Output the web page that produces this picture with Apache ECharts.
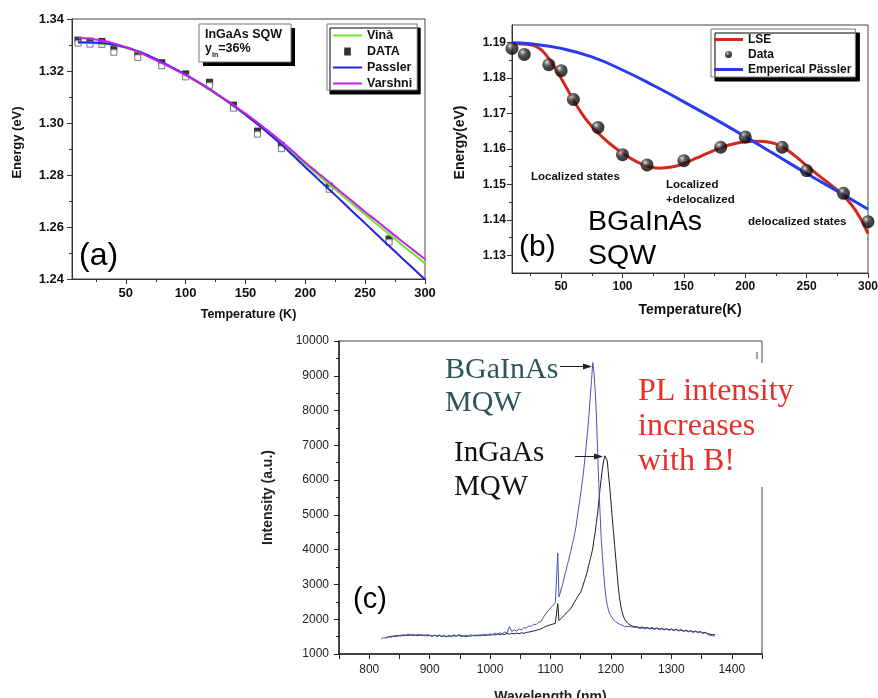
<!DOCTYPE html>
<html>
<head>
<meta charset="utf-8">
<title>Band gap vs temperature and PL spectra</title>
<script src="https://cdn.jsdelivr.net/npm/echarts@6/dist/echarts.min.js"></script>
<style>
  html, body { margin: 0; padding: 0; background: #ffffff; }
  #chart { width: 878px; height: 698px; }
</style>
</head>
<body>
<div id="chart"></div>
<script>
// ---------- (a) InGaAs SQW: band gap energy vs temperature ----------
const tempFitA = [10, 20, 30, 40, 50, 60, 70, 80, 90, 100, 110, 120, 130, 140, 150,
                  160, 170, 180, 190, 200, 210, 220, 230, 240, 250, 260, 270, 280, 290, 300];
const vinaFitA = [1.3309, 1.3308, 1.3305, 1.3299, 1.3288, 1.3273, 1.3254, 1.3232, 1.3208, 1.3183,
                  1.3156, 1.3127, 1.3097, 1.3065, 1.3031, 1.2996, 1.2960, 1.2922, 1.2882, 1.2841,
                  1.2802, 1.2763, 1.2725, 1.2686, 1.2648, 1.2610, 1.2572, 1.2534, 1.2497, 1.2460];
const passlerFitA = [1.3311, 1.3310, 1.3307, 1.3301, 1.3291, 1.3276, 1.3257, 1.3235, 1.3211, 1.3186,
                     1.3159, 1.3130, 1.3099, 1.3066, 1.3032, 1.2995, 1.2957, 1.2917, 1.2874, 1.2830,
                     1.2787, 1.2744, 1.2701, 1.2657, 1.2614, 1.2570, 1.2527, 1.2484, 1.2441, 1.2398];
const varshniFitA = [1.3328, 1.3324, 1.3317, 1.3306, 1.3292, 1.3274, 1.3253, 1.3231, 1.3208, 1.3184,
                     1.3158, 1.3130, 1.3100, 1.3069, 1.3036, 1.3002, 1.2966, 1.2929, 1.2889, 1.2848,
                     1.2810, 1.2772, 1.2734, 1.2696, 1.2658, 1.2622, 1.2585, 1.2548, 1.2512, 1.2476];
const tempDataA = [10, 20, 30, 40, 60, 80, 100, 120, 140, 160, 180, 220, 270];
const energyDataA = [1.3315, 1.3311, 1.3310, 1.3280, 1.3260, 1.3228, 1.3185, 1.3153, 1.3065,
                     1.2965, 1.2909, 1.2753, 1.2550];
const tempTicks = [50, 100, 150, 200, 250, 300];
const tempMinorTicks = [25, 75, 125, 175, 225, 275];

// ---------- (b) BGaInAs SQW: S-shaped emission energy ----------
const tempDataB = [10, 20, 40, 50, 60, 80, 100, 120, 150, 180, 200, 230, 250, 280, 300];
const energyDataB = [1.1884, 1.1867, 1.1838, 1.1821, 1.1740, 1.1661, 1.1584, 1.1555, 1.1567,
                     1.1605, 1.1634, 1.1605, 1.1539, 1.1475, 1.1395];
const tempFitB = [10, 15, 20, 25, 30, 35, 40, 45, 50, 55, 60, 65, 70, 75, 80, 85, 90, 95, 100,
                  110, 120, 130, 140, 150, 160, 170, 180, 190, 200, 210, 220, 230, 240, 250,
                  260, 270, 280, 290, 300];
const lseFitB = [1.1897, 1.1897, 1.1896, 1.1894, 1.1889, 1.1876, 1.1855, 1.1829, 1.1800, 1.1769,
                 1.1738, 1.1710, 1.1685, 1.1664, 1.1646, 1.1629, 1.1614, 1.1601, 1.1589,
                 1.1567, 1.1552, 1.1546, 1.1549, 1.1559, 1.1574, 1.1589, 1.1603, 1.1614, 1.1620,
                 1.1622, 1.1619, 1.1606, 1.1582, 1.1553, 1.1525, 1.1498, 1.1468, 1.1426, 1.1362];
const tempPasslerB = [10, 25, 50, 75, 100, 125, 150, 175, 200, 225, 250, 275, 300];
const passlerFitB = [1.1900, 1.1897, 1.1884, 1.1860, 1.1823, 1.1780, 1.1733, 1.1685, 1.1635,
                     1.1583, 1.1531, 1.1481, 1.1430];
const energyTicksB = [1.13, 1.14, 1.15, 1.16, 1.17, 1.18, 1.19];
const energyMinorTicksB = [1.135, 1.145, 1.155, 1.165, 1.175, 1.185];

// ---------- (c) Room-temperature PL spectra ----------
const wavelengthNm = [
  820, 824, 828, 832, 836, 840, 844, 848, 852, 856, 860, 864, 868, 872, 876, 880, 884, 888, 892, 896,
  900, 904, 908, 912, 916, 920, 924, 928, 932, 936, 940, 944, 948, 952, 956, 960, 964, 968, 972, 976,
  980, 984, 988, 992, 996, 1000, 1004, 1008, 1012, 1016, 1020, 1024, 1028, 1032, 1036, 1040, 1044,
  1048, 1052, 1056, 1060, 1064, 1068, 1072, 1076, 1080, 1084, 1088, 1092, 1096, 1100,
  1102, 1104, 1106, 1108, 1110, 1112, 1114, 1116, 1118, 1120, 1122, 1124, 1126, 1128, 1130, 1132,
  1134, 1136, 1138, 1140, 1142, 1144, 1146, 1148, 1150, 1152, 1154, 1156, 1158, 1160, 1162, 1164,
  1166, 1168, 1170, 1172, 1174, 1176, 1178, 1180, 1182, 1184, 1186, 1188, 1190, 1192, 1194, 1196,
  1198, 1200, 1202, 1204, 1206, 1208, 1210, 1212, 1214, 1216, 1218, 1220, 1222, 1224, 1226, 1228,
  1230, 1232, 1234, 1236, 1238, 1240,
  1244, 1248, 1252, 1256, 1260, 1264, 1268, 1272, 1276, 1280, 1284, 1288, 1292, 1296, 1300, 1304,
  1308, 1312, 1316, 1320, 1324, 1328, 1332, 1336, 1340, 1344, 1348, 1352, 1356, 1360, 1364, 1368, 1372
];
const bgainasIntensity = [
  1440, 1470, 1455, 1500, 1480, 1525, 1495, 1540, 1510, 1560, 1530, 1575, 1545, 1560, 1530, 1570,
  1540, 1555, 1520, 1560, 1535, 1505, 1545, 1515, 1550, 1500, 1530, 1490, 1540, 1510, 1555, 1520,
  1560, 1525, 1505, 1545, 1510, 1560, 1520, 1550, 1515, 1560, 1530, 1570, 1540, 1580, 1550, 1600,
  1565, 1610, 1580, 1630, 1600, 1790, 1650, 1690, 1660, 1720, 1690, 1760, 1740, 1810, 1790, 1860,
  1840, 1910, 1930, 2050, 2150, 2240, 2320,
  2360, 2400, 2430, 2470, 2510, 3900, 2640, 2750, 2900, 2980, 3150, 3300, 3400, 3580, 3690, 3860,
  3980, 4160, 4270, 4460, 4640, 4890, 5120, 5370, 5610, 5890, 6140, 6460, 6790, 7160, 7540, 7960,
  8440, 8900, 9380, 9100, 8550, 7850, 6800, 5850, 5050, 4300, 3800, 3300, 2900, 2600, 2400, 2260,
  2160, 2100, 2040, 1990, 1950, 1920, 1900, 1880, 1860, 1840, 1830, 1810, 1800, 1790, 1785, 1770,
  1790, 1760, 1780, 1750, 1770, 1745,
  1760, 1735, 1750, 1720, 1745, 1715, 1740, 1705, 1735, 1700, 1725, 1690, 1720, 1680, 1705, 1670,
  1700, 1660, 1685, 1645, 1670, 1635, 1655, 1620, 1645, 1610, 1630, 1590, 1610, 1560, 1540, 1525, 1520
];
const ingaasIntensity = [
  null, null, 1470, 1490, 1510, 1500, 1530, 1515, 1540, 1525, 1545, 1530, 1550, 1535, 1545, 1525,
  1550, 1530, 1545, 1520, 1540, 1515, 1535, 1505, 1530, 1510, 1525, 1500, 1520, 1505, 1530, 1510,
  1535, 1515, 1520, 1500, 1525, 1510, 1540, 1520, 1545, 1525, 1550, 1530, 1555, 1540, 1560, 1545,
  1570, 1555, 1580, 1560, 1590, 1570, 1595, 1580, 1600, 1585, 1610, 1595, 1620, 1630, 1645, 1660,
  1680, 1700, 1720, 1760, 1790, 1820, 1840,
  1850, 1860, 1870, 1880, 1890, 2450, 1960, 1990, 2030, 2060, 2100, 2140, 2180, 2210, 2240, 2270,
  2320, 2380, 2440, 2500, 2560, 2620, 2680, 2720, 2780, 2880, 2980, 3100, 3200, 3320, 3450, 3600,
  3750, 3880, 4050, 4300, 4500, 4780, 5050, 5400, 5750, 6050, 6350, 6560, 6700, 6750, 6550, 6150,
  5800, 5400, 4950, 4550, 4150, 3750, 3350, 2950, 2650, 2400, 2250, 2120, 2030, 1960, 1920, 1880,
  1850, 1830, 1810, 1800, 1790, 1785,
  1780, 1760, 1775, 1745, 1765, 1735, 1760, 1725, 1750, 1715, 1740, 1705, 1730, 1695, 1720, 1685,
  1710, 1675, 1700, 1660, 1685, 1650, 1670, 1635, 1660, 1625, 1645, 1605, 1625, 1585, 1570, 1560, 1555
];

// ---------- helpers ----------
const SANS = '"Liberation Sans", Arial, sans-serif';
const SERIF = '"Liberation Serif", "Times New Roman", serif';
const pairs = (xs, ys) => xs.map((x, i) => [x, ys[i]]);
const LINE_ICON_2 = 'path://M0,0h29v2h-29z';
const LINE_ICON_3 = 'path://M0,0h29v3h-29z';

const boldLabel = (size, extra) => Object.assign({
  fontFamily: SANS, fontWeight: 'bold', fontSize: size, color: '#111'
}, extra || {});

function mainAxis(gridIndex, min, max, labelValues, labelSize, margin, fmt, name, nameGap, nameSize, pos, namePad) {
  return {
    type: 'value', gridIndex, min, max, position: pos,
    axisLine: { show: true, onZero: false, lineStyle: { color: '#333', width: 1 } },
    axisTick: { show: true, inside: false, length: 5, customValues: labelValues, lineStyle: { color: '#333', width: 1 } },
    axisLabel: Object.assign({ customValues: labelValues, margin, formatter: fmt }, boldLabel(labelSize)),
    splitLine: { show: false },
    name, nameLocation: 'middle', nameGap, nameMoveOverlap: false,
    nameTextStyle: boldLabel(nameSize, { padding: namePad || 0 })
  };
}
function minorAxis(gridIndex, min, max, values, pos) {
  return {
    type: 'value', gridIndex, min, max, position: pos,
    axisLine: { show: false },
    axisTick: { show: true, inside: false, length: 3, customValues: values, lineStyle: { color: '#333', width: 1 } },
    axisLabel: { show: false },
    splitLine: { show: false }
  };
}

const sphere = {
  type: 'radial', x: 0.36, y: 0.32, r: 0.72,
  colorStops: [
    { offset: 0, color: '#f4f4f4' },
    { offset: 0.16, color: '#808080' },
    { offset: 0.45, color: '#222222' },
    { offset: 1, color: '#000000' }
  ]
};

const chart = echarts.init(document.getElementById('chart'), null, { renderer: 'canvas' });

const option = {
  backgroundColor: '#ffffff',
  animation: false,
  grid: [
    { left: 72, top: 19, width: 353, height: 260, show: true, borderColor: '#444', borderWidth: 1, backgroundColor: 'transparent', outerBoundsMode: 'none' },
    { left: 512, top: 25, width: 356, height: 248, show: true, borderColor: '#444', borderWidth: 1, backgroundColor: 'transparent', outerBoundsMode: 'none' },
    { left: 339, top: 341, width: 423, height: 313, show: true, borderColor: '#444', borderWidth: 1, backgroundColor: 'transparent', outerBoundsMode: 'none' }
  ],
  xAxis: [
    mainAxis(0, 5, 300, tempTicks, 13, 8, v => String(v), 'Temperature (K)', 29, 12.5, 'bottom'),
    minorAxis(0, 5, 300, tempMinorTicks, 'bottom'),
    mainAxis(1, 10, 300, tempTicks, 12, 8, v => String(v), 'Temperature(K)', 30, 14, 'bottom'),
    minorAxis(1, 10, 300, tempMinorTicks, 'bottom'),
    {
      type: 'value', gridIndex: 2, min: 750, max: 1450, interval: 50, position: 'bottom',
      axisLine: { show: true, onZero: false, lineStyle: { color: '#222', width: 1.5 } },
      axisTick: { show: true, inside: false, length: 5, lineStyle: { color: '#222', width: 1 } },
      axisLabel: {
        margin: 10, fontFamily: SANS, fontSize: 12, color: '#222',
        formatter: v => (v % 100 === 0 && v >= 800 && v <= 1400) ? String(v) : ''
      },
      splitLine: { show: false },
      name: 'Wavelength (nm)', nameLocation: 'middle', nameGap: 36, nameMoveOverlap: false,
      nameTextStyle: boldLabel(14, { color: '#222' })
    }
  ],
  yAxis: [
    {
      type: 'value', gridIndex: 0, min: 1.24, max: 1.34, interval: 0.02, position: 'left',
      axisLine: { show: true, onZero: false, lineStyle: { color: '#333', width: 1 } },
      axisTick: { show: true, inside: false, length: 5, lineStyle: { color: '#333' } },
      minorTick: { show: true, splitNumber: 2, length: 3, lineStyle: { color: '#333' } },
      axisLabel: Object.assign({ margin: 8, formatter: v => v.toFixed(2) }, boldLabel(13)),
      splitLine: { show: false },
      name: 'Energy (eV)', nameLocation: 'middle', nameGap: 48, nameMoveOverlap: false,
      nameTextStyle: boldLabel(13, { padding: [0, 0, 0, 13] })
    },
    mainAxis(1, 1.125, 1.195, energyTicksB, 12, 6, v => v.toFixed(2), 'Energy(eV)', 45, 14, 'left', [0, 0, 0, 13]),
    minorAxis(1, 1.125, 1.195, energyMinorTicksB, 'left'),
    {
      type: 'value', gridIndex: 2, min: 1000, max: 10000, interval: 1000, position: 'left',
      axisLine: { show: true, onZero: false, lineStyle: { color: '#222', width: 1.5 } },
      axisTick: { show: true, inside: false, length: 5, lineStyle: { color: '#222' } },
      minorTick: { show: true, splitNumber: 2, length: 3, lineStyle: { color: '#222' } },
      axisLabel: { margin: 10, fontFamily: SANS, fontSize: 12, color: '#222', formatter: v => String(v) },
      splitLine: { show: false },
      name: 'Intensity (a.u.)', nameLocation: 'middle', nameGap: 64, nameMoveOverlap: false,
      nameTextStyle: boldLabel(14, { color: '#222' })
    }
  ],
  legend: [
    {
      orient: 'vertical', left: 327, top: 24, padding: [5, 5, 0, 6],
      itemWidth: 29, itemHeight: 8, itemGap: 3, selectedMode: false,
      backgroundColor: '#ffffff', borderColor: '#777', borderWidth: 1,
      shadowColor: '#000', shadowBlur: 0, shadowOffsetX: 3, shadowOffsetY: 4,
      textStyle: boldLabel(12.5, { lineHeight: 13 }),
      data: [
        { name: 'Vinà', icon: LINE_ICON_2 },
        { name: 'DATA', icon: 'path://M0,0h5v6h-5z' },
        { name: 'Passler', icon: LINE_ICON_2 },
        { name: 'Varshni', icon: LINE_ICON_2 }
      ]
    },
    {
      orient: 'vertical', left: 711, top: 29, padding: [4, 4, 1, 3],
      itemWidth: 29, itemHeight: 7, itemGap: 2, selectedMode: false,
      backgroundColor: '#ffffff', borderColor: '#777', borderWidth: 1,
      shadowColor: '#000', shadowBlur: 0, shadowOffsetX: 4, shadowOffsetY: 4,
      textStyle: boldLabel(12, { lineHeight: 13 }),
      data: [
        { name: 'LSE', icon: LINE_ICON_3 },
        { name: 'Data', icon: 'circle' },
        { name: 'Emperical Pässler', icon: LINE_ICON_3 }
      ]
    }
  ],
  series: [
    // (a) measured points: filled upper half over an open square
    {
      name: 'DATA', type: 'scatter', xAxisIndex: 0, yAxisIndex: 0,
      data: pairs(tempDataA, energyDataA), symbol: 'rect', symbolSize: [7, 5], symbolOffset: [0, -2],
      itemStyle: { color: '#000' }, z: 2
    },
    {
      name: 'DATA open', type: 'scatter', xAxisIndex: 0, yAxisIndex: 0,
      data: pairs(tempDataA, energyDataA), symbol: 'rect', symbolSize: [6, 6], symbolOffset: [0, 2],
      itemStyle: { color: '#fff', borderColor: '#555', borderWidth: 1 }, z: 2
    },
    {
      name: 'Vinà', type: 'line', xAxisIndex: 0, yAxisIndex: 0, smooth: true, symbol: 'none',
      data: pairs(tempFitA, vinaFitA), lineStyle: { color: '#6ee62a', width: 2 }, itemStyle: { color: '#6ee62a' }, z: 3
    },
    {
      name: 'Passler', type: 'line', xAxisIndex: 0, yAxisIndex: 0, smooth: true, symbol: 'none',
      data: pairs(tempFitA, passlerFitA), lineStyle: { color: '#2222dd', width: 2 }, itemStyle: { color: '#2222dd' }, z: 3
    },
    {
      name: 'Varshni', type: 'line', xAxisIndex: 0, yAxisIndex: 0, smooth: true, symbol: 'none',
      data: pairs(tempFitA, varshniFitA), lineStyle: { color: '#c81fe8', width: 2 }, itemStyle: { color: '#c81fe8' }, z: 3
    },
    // (b)
    {
      name: 'LSE', type: 'line', xAxisIndex: 2, yAxisIndex: 1, smooth: true, symbol: 'none',
      data: pairs(tempFitB, lseFitB), lineStyle: { color: '#d2291d', width: 3 }, itemStyle: { color: '#d2291d' }, z: 3
    },
    {
      name: 'Emperical Pässler', type: 'line', xAxisIndex: 2, yAxisIndex: 1, smooth: true, symbol: 'none',
      data: pairs(tempPasslerB, passlerFitB), lineStyle: { color: '#2a3cf0', width: 3 }, itemStyle: { color: '#2a3cf0' }, z: 3
    },
    {
      name: 'Data', type: 'scatter', xAxisIndex: 2, yAxisIndex: 1,
      data: pairs(tempDataB, energyDataB), symbol: 'circle', symbolSize: 13,
      itemStyle: { color: sphere }, z: 4
    },
    // (c)
    {
      name: 'InGaAs MQW', type: 'line', xAxisIndex: 4, yAxisIndex: 3, symbol: 'none', connectNulls: false,
      data: pairs(wavelengthNm, ingaasIntensity), lineStyle: { color: '#1e1e1e', width: 1 }, z: 3
    },
    {
      name: 'BGaInAs MQW', type: 'line', xAxisIndex: 4, yAxisIndex: 3, symbol: 'none',
      data: pairs(wavelengthNm, bgainasIntensity), lineStyle: { color: '#4656b0', width: 1 }, z: 3
    }
  ],
  graphic: {
    elements: [
      // (a) sample box
      { type: 'rect', z: 50, shape: { x: 203, y: 28, width: 92, height: 38 }, style: { fill: '#000' } },
      { type: 'rect', z: 51, shape: { x: 199, y: 24, width: 92, height: 38 }, style: { fill: '#fff', stroke: '#777', lineWidth: 1 } },
      { type: 'text', z: 52, x: 205, y: 35, style: { text: 'InGaAs SQW', font: 'bold 12.5px ' + SANS, fill: '#111', align: 'left', verticalAlign: 'middle' } },
      {
        type: 'text', z: 52, x: 205, y: 49,
        style: {
          text: '{m|y}{s|In}{m|=36%}', align: 'left', verticalAlign: 'middle',
          rich: {
            m: { font: 'bold 12.5px ' + SANS, fill: '#111', lineHeight: 20 },
            s: { font: 'bold 7px ' + SANS, fill: '#111', lineHeight: 20, verticalAlign: 'bottom' }
          }
        }
      },
      { type: 'text', z: 52, x: 79, y: 256, style: { text: '(a)', font: '32px ' + SANS, fill: '#000', align: 'left', verticalAlign: 'middle' } },

      // (b) annotations
      { type: 'text', z: 52, x: 531, y: 176.5, style: { text: 'Localized states', font: 'bold 11.5px ' + SANS, fill: '#111', align: 'left', verticalAlign: 'middle' } },
      { type: 'text', z: 52, x: 666, y: 184.5, style: { text: 'Localized', font: 'bold 11.5px ' + SANS, fill: '#111', align: 'left', verticalAlign: 'middle' } },
      { type: 'text', z: 52, x: 666, y: 199.5, style: { text: '+delocalized', font: 'bold 11.5px ' + SANS, fill: '#111', align: 'left', verticalAlign: 'middle' } },
      { type: 'text', z: 52, x: 748, y: 221.5, style: { text: 'delocalized states', font: 'bold 11.5px ' + SANS, fill: '#111', align: 'left', verticalAlign: 'middle' } },
      { type: 'text', z: 52, x: 588, y: 222.5, style: { text: 'BGaInAs', font: '28.5px ' + SANS, fill: '#000', align: 'left', verticalAlign: 'middle' } },
      { type: 'text', z: 52, x: 588, y: 256.5, style: { text: 'SQW', font: '28.5px ' + SANS, fill: '#000', align: 'left', verticalAlign: 'middle' } },
      { type: 'text', z: 52, x: 519, y: 248, style: { text: '(b)', font: '30px ' + SANS, fill: '#000', align: 'left', verticalAlign: 'middle' } },

      // (c) annotations
      { type: 'rect', z: 50, shape: { x: 623, y: 363, width: 143, height: 124 }, style: { fill: '#fff' } },
      { type: 'line', z: 52, shape: { x1: 757, y1: 352, x2: 757, y2: 359 }, style: { stroke: '#444', lineWidth: 1 } },
      { type: 'text', z: 52, x: 638, y: 391.5, style: { text: 'PL intensity', font: '32px ' + SERIF, fill: '#e8302a', align: 'left', verticalAlign: 'middle' } },
      { type: 'text', z: 52, x: 638, y: 427, style: { text: 'increases', font: '32px ' + SERIF, fill: '#e8302a', align: 'left', verticalAlign: 'middle' } },
      { type: 'text', z: 52, x: 638, y: 462, style: { text: 'with B!', font: '32px ' + SERIF, fill: '#e8302a', align: 'left', verticalAlign: 'middle' } },
      { type: 'text', z: 52, x: 445, y: 370.5, style: { text: 'BGaInAs', font: '30px ' + SERIF, fill: '#2e5658', align: 'left', verticalAlign: 'middle' } },
      { type: 'text', z: 52, x: 445, y: 403.5, style: { text: 'MQW', font: '30px ' + SERIF, fill: '#2e5658', align: 'left', verticalAlign: 'middle' } },
      { type: 'text', z: 52, x: 454, y: 453.5, style: { text: 'InGaAs', font: '29px ' + SERIF, fill: '#111', align: 'left', verticalAlign: 'middle' } },
      { type: 'text', z: 52, x: 454, y: 487, style: { text: 'MQW', font: '29px ' + SERIF, fill: '#111', align: 'left', verticalAlign: 'middle' } },
      { type: 'line', z: 52, shape: { x1: 560, y1: 366.5, x2: 586, y2: 366.5 }, style: { stroke: '#222', lineWidth: 1 } },
      { type: 'polygon', z: 52, shape: { points: [[583, 363.5], [592, 366.5], [583, 369.5]] }, style: { fill: '#222' } },
      { type: 'line', z: 52, shape: { x1: 575, y1: 456.5, x2: 597, y2: 456.5 }, style: { stroke: '#222', lineWidth: 1 } },
      { type: 'polygon', z: 52, shape: { points: [[594, 453.5], [603, 456.5], [594, 459.5]] }, style: { fill: '#222' } },
      { type: 'text', z: 52, x: 353, y: 600, style: { text: '(c)', font: '29px ' + SANS, fill: '#000', align: 'left', verticalAlign: 'middle' } }
    ]
  }
};

chart.setOption(option);
</script>
</body>
</html>
